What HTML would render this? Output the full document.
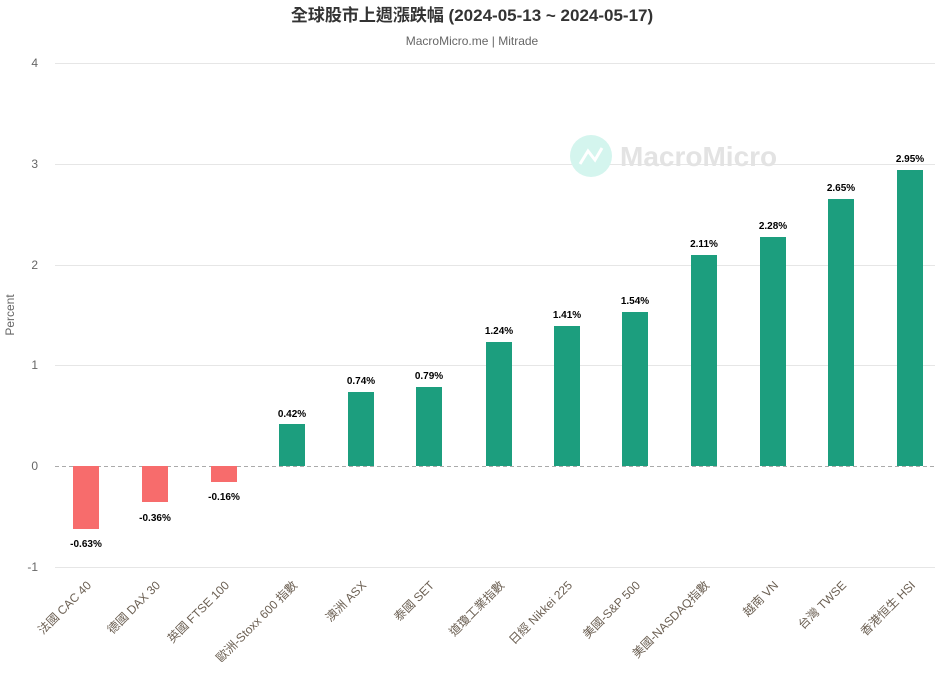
<!DOCTYPE html>
<html><head><meta charset="utf-8"><style>
body{margin:0;background:#fff;}
svg{display:block;font-family:"Liberation Sans","Noto Sans CJK TC",sans-serif;}
</style></head><body>
<svg width="945" height="686" xmlns="http://www.w3.org/2000/svg">
<text x="472" y="21" text-anchor="middle" font-size="17" font-weight="bold" fill="#333">全球股市上週漲跌幅 (2024-05-13 ~ 2024-05-17)</text>
<text x="472" y="45" text-anchor="middle" font-size="12" fill="#666">MacroMicro.me | Mitrade</text>
<g stroke="#e6e6e6" stroke-width="1">
<line x1="55" x2="935" y1="63.5" y2="63.5"/><line x1="55" x2="935" y1="164.5" y2="164.5"/>
<line x1="55" x2="935" y1="265.5" y2="265.5"/><line x1="55" x2="935" y1="365.5" y2="365.5"/>
<line x1="55" x2="935" y1="567.5" y2="567.5"/>
</g>
<g font-size="12" fill="#666" text-anchor="end">
<text x="38" y="67">4</text><text x="38" y="168">3</text><text x="38" y="269">2</text>
<text x="38" y="369">1</text><text x="38" y="470">0</text><text x="38" y="571">-1</text>
</g>
<text transform="translate(14,315) rotate(-90)" text-anchor="middle" font-size="12" fill="#666">Percent</text>
<circle cx="591" cy="156" r="21" fill="#d4f5ee"/>
<polyline points="580,164 588,151 595,160 602,148" fill="none" stroke="#fff" stroke-width="3"/>
<text x="620" y="166" font-size="28" font-weight="bold" fill="#e3e3e3">MacroMicro</text>
<line x1="55" x2="935" y1="466.5" y2="466.5" stroke="#aaa" stroke-dasharray="4,3"/>
<g font-size="10" font-weight="bold" fill="#000" text-anchor="middle">
<rect x="73" y="466" width="26" height="63" fill="#f76c6c"/><text x="86" y="547">-0.63%</text>
<rect x="142" y="466" width="26" height="36" fill="#f76c6c"/><text x="155" y="521">-0.36%</text>
<rect x="211" y="466" width="26" height="16" fill="#f76c6c"/><text x="224" y="500">-0.16%</text>
<rect x="279" y="424" width="26" height="42" fill="#1c9e7e"/><text x="292" y="417">0.42%</text>
<rect x="348" y="392" width="26" height="74" fill="#1c9e7e"/><text x="361" y="384">0.74%</text>
<rect x="416" y="387" width="26" height="79" fill="#1c9e7e"/><text x="429" y="379">0.79%</text>
<rect x="486" y="342" width="26" height="124" fill="#1c9e7e"/><text x="499" y="334">1.24%</text>
<rect x="554" y="326" width="26" height="140" fill="#1c9e7e"/><text x="567" y="318">1.41%</text>
<rect x="622" y="312" width="26" height="154" fill="#1c9e7e"/><text x="635" y="304">1.54%</text>
<rect x="691" y="255" width="26" height="211" fill="#1c9e7e"/><text x="704" y="247">2.11%</text>
<rect x="760" y="237" width="26" height="229" fill="#1c9e7e"/><text x="773" y="229">2.28%</text>
<rect x="828" y="199" width="26" height="267" fill="#1c9e7e"/><text x="841" y="191">2.65%</text>
<rect x="897" y="170" width="26" height="296" fill="#1c9e7e"/><text x="910" y="162">2.95%</text>
</g>
<g font-size="12" fill="#6b5f52" text-anchor="end">
<text transform="translate(92,586) rotate(-45)">法國 CAC 40</text>
<text transform="translate(161,586) rotate(-45)">德國 DAX 30</text>
<text transform="translate(230,586) rotate(-45)">英國 FTSE 100</text>
<text transform="translate(298,586) rotate(-45)">歐洲-Stoxx 600 指數</text>
<text transform="translate(367,586) rotate(-45)">澳洲 ASX</text>
<text transform="translate(435,586) rotate(-45)">泰國 SET</text>
<text transform="translate(505,586) rotate(-45)">道瓊工業指數</text>
<text transform="translate(573,586) rotate(-45)">日經 Nikkei 225</text>
<text transform="translate(641,586) rotate(-45)">美國-S&amp;P 500</text>
<text transform="translate(710,586) rotate(-45)">美國-NASDAQ指數</text>
<text transform="translate(779,586) rotate(-45)">越南 VN</text>
<text transform="translate(847,586) rotate(-45)">台灣 TWSE</text>
<text transform="translate(916,586) rotate(-45)">香港恒生 HSI</text>
</g>
</svg>
</body></html>
